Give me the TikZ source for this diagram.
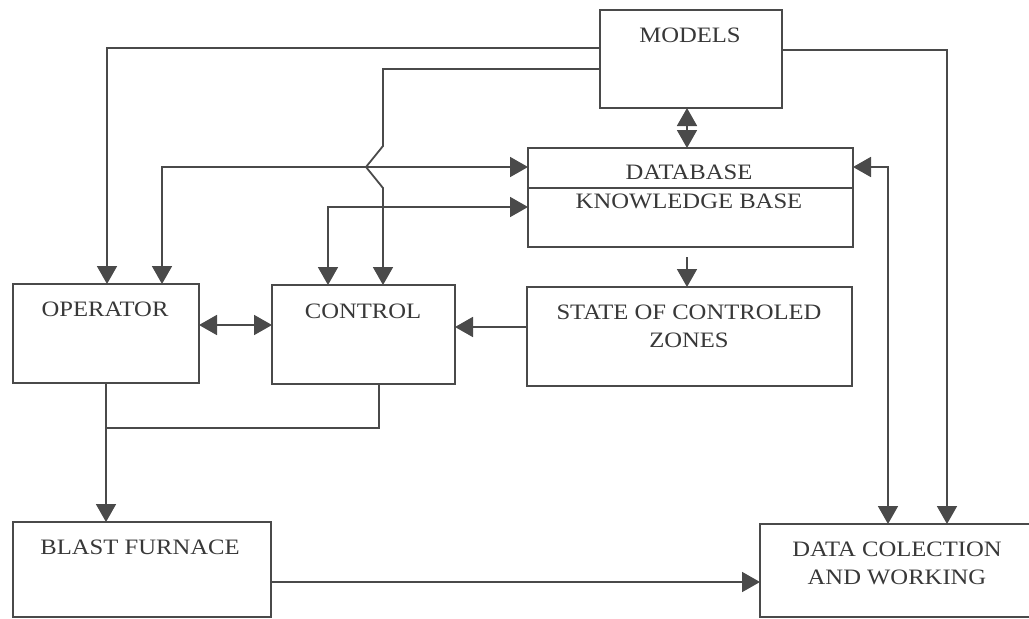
\documentclass[tikz,border=0pt]{standalone}
\usepackage{fontspec}
\setmainfont{Liberation Serif}[FakeStretch=1.12]
\usetikzlibrary{arrows.meta}
\definecolor{linegray}{HTML}{4A4A4A}
\definecolor{textgray}{HTML}{383838}
\begin{document}
\begin{tikzpicture}[x=1pt,y=-1pt,
  box/.style={draw=linegray, line width=1.8pt, inner sep=0pt, outer sep=0pt, anchor=north west},
  lbl/.style={text=textgray, inner sep=0pt, align=center, font=\fontsize{22}{28}\selectfont},
  conn/.style={draw=linegray, line width=1.8pt, line join=miter},
  tip/.style={-{Triangle[width=20pt,length=18pt]}},
  tips/.style={{Triangle[width=20pt,length=18pt]}-{Triangle[width=20pt,length=18pt]}}]
\useasboundingbox[fill=white] (0,0) rectangle (1029,619);

% boxes
\node[box, minimum width=182pt, minimum height=98pt] (models) at (600,10) {};
\node[box, minimum width=325pt, minimum height=99pt] (db) at (528,148) {};
\node[box, minimum width=325pt, minimum height=99pt] (state) at (527,287) {};
\node[box, minimum width=183pt, minimum height=99pt] (control) at (272,285) {};
\node[box, minimum width=186pt, minimum height=99pt] (operator) at (13,284) {};
\node[box, minimum width=258pt, minimum height=95pt] (blast) at (13,522) {};
\node[box, minimum width=330pt, minimum height=93pt] (data) at (760,524) {};

\draw[conn] (db.west |- 0,188) -- (db.east |- 0,188);

% texts
\node[lbl] (tmodels) at (690,35) {MODELS};
\node[lbl] (tdb1) at (689,172) {DATABASE};
\node[lbl] (tdb2) at (689,201) {KNOWLEDGE BASE};
\node[lbl] (toperator) at (105,309) {OPERATOR};
\node[lbl] (tcontrol) at (363,311) {CONTROL};
\node[lbl] (tstate) at (689,326) {STATE OF CONTROLED\\ZONES};
\node[lbl] (tblast) at (140,547) {BLAST FURNACE};
\node[lbl] (tdata) at (897,563) {DATA COLECTION\\AND WORKING};

% connectors
\draw[conn, tip] (models.west |- 0,48) -| (107,0 |- operator.north);
\draw[conn, tip] (models.west |- 0,69) -- (383,69) -- (383,146) -- (366,167) -- (383,188) -- (383,0 |- control.north);
\draw[conn, tip] (models.east |- 0,50) -| (947,0 |- data.north);
\draw[conn, tips] (models.south -| 687,0) -- (db.north -| 687,0);
\draw[conn, tips] (db.west |- 0,167) -| (162,0 |- operator.north);
\draw[conn, tips] (db.west |- 0,207) -| (328,0 |- control.north);
\draw[conn, tips] (db.east |- 0,167) -| (888,0 |- data.north);
\draw[conn, tip, shorten <=10pt] (db.south -| 687,0) -- (state.north -| 687,0);
\draw[conn, tip] (state.west |- 0,327) -- (control.east |- 0,327);
\draw[conn, tips] (operator.east |- 0,325) -- (control.west |- 0,325);
\draw[conn, tip] (operator.south -| 106,0) -- (blast.north -| 106,0);
\draw[conn] (control.south -| 379,0) |- (106,428);
\draw[conn, tip] (blast.east |- 0,582) -- (data.west |- 0,582);
\end{tikzpicture}
\end{document}
